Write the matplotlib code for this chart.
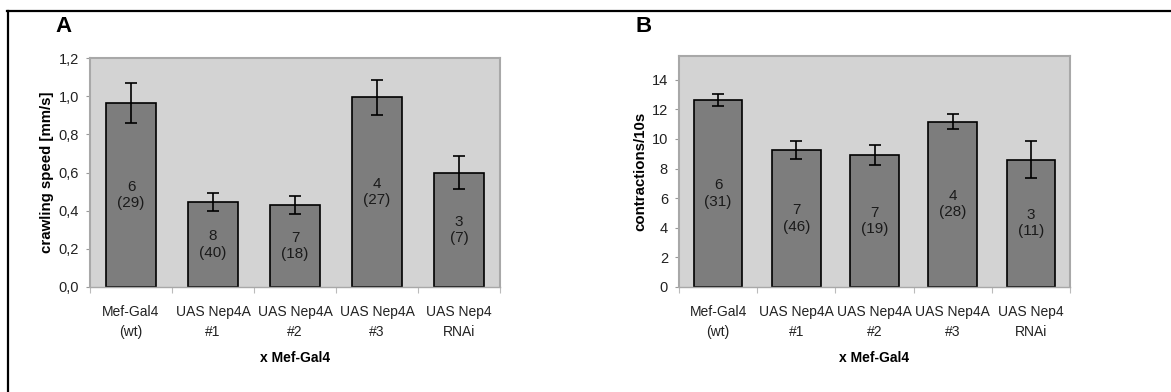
import matplotlib
matplotlib.use("Agg")
import matplotlib.pyplot as plt
from matplotlib.ticker import FuncFormatter
from matplotlib.lines import Line2D

plt.rcParams["font.family"] = ["Liberation Sans", "DejaVu Sans"]

categories = ["Mef-Gal4\n(wt)", "UAS Nep4A\n#1", "UAS Nep4A\n#2",
              "UAS Nep4A\n#3", "UAS Nep4\nRNAi"]

speed = [0.965, 0.445, 0.431, 0.994, 0.599]
speed_err = [0.105, 0.048, 0.048, 0.092, 0.087]
speed_n = ["6\n(29)", "8\n(40)", "7\n(18)", "4\n(27)", "3\n(7)"]

contractions = [12.62, 9.25, 8.91, 11.16, 8.60]
contractions_err = [0.43, 0.58, 0.70, 0.52, 1.25]
contractions_n = ["6\n(31)", "7\n(46)", "7\n(19)", "4\n(28)", "3\n(11)"]

W, H = 1171, 392
fig = plt.figure(figsize=(W / 100, H / 100), dpi=100)

# outer frame (only top and left edges visible in the crop)
fig.add_artist(Line2D([7 / W, 1], [1 - 10.5 / H, 1 - 10.5 / H], color="black", lw=1.6))
fig.add_artist(Line2D([7.5 / W, 7.5 / W], [0, 1 - 10.5 / H], color="black", lw=1.6))


def panel(rect, values, errs, ns, ylim, yticks, fmt, ylabel, letter, letter_x):
    ax = fig.add_axes([rect[0] / W, 1 - rect[3] / H,
                       (rect[2] - rect[0]) / W, (rect[3] - rect[1]) / H])
    ax.set_facecolor("#d3d3d3")
    x = range(len(values))
    ax.bar(x, values, width=0.62, color="#7d7d7d", edgecolor="black",
           linewidth=1.2, zorder=2)
    ax.errorbar(x, values, yerr=errs, fmt="none", ecolor="black",
                elinewidth=1.2, capsize=4, capthick=1.2, zorder=3)
    for xi, v, t in zip(x, values, ns):
        ax.text(xi, v / 2, t, ha="center", va="center", fontsize=11,
                color="#1a1a1a", linespacing=1.2, zorder=4)
    ax.set_xlim(-0.5, len(values) - 0.5)
    ax.set_ylim(*ylim)
    ax.set_yticks(yticks)
    ax.yaxis.set_major_formatter(FuncFormatter(fmt))
    ax.set_xticks([i + 0.5 for i in range(-1, len(values))])
    ax.set_xticklabels([])
    ax.set_xticks(list(x), minor=True)
    ax.set_xticklabels(categories, minor=True, fontsize=10, color="#222222",
                       linespacing=1.5)
    ax.tick_params(axis="x", which="minor", length=0, pad=13)
    ax.tick_params(axis="x", which="major", length=4, color="#bbbbbb")
    ax.tick_params(axis="y", length=3, color="#999999", labelsize=10.5,
                   labelcolor="#222222", pad=5)
    for side in ("top", "right", "left"):
        ax.spines[side].set_color("#a8a8a8")
        ax.spines[side].set_linewidth(1.5)
    ax.spines["bottom"].set_color("#a8a8a8")
    ax.spines["bottom"].set_linewidth(1.0)
    ax.set_ylabel(ylabel, fontsize=10.8, fontweight="bold", labelpad=3)
    ax.set_xlabel("x Mef-Gal4", fontsize=10, fontweight="bold", labelpad=9)
    fig.text(letter_x / W, 1 - 26 / H, letter, fontsize=16, fontweight="bold",
             ha="center", va="center")
    return ax


panel((90, 58, 500, 287), speed, speed_err, speed_n, (0, 1.2),
      [0, 0.2, 0.4, 0.6, 0.8, 1.0, 1.2],
      lambda v, p: f"{v:.1f}".replace(".", ","),
      "crawling speed [mm/s]", "A", 63)

panel((679, 56, 1070, 287), contractions, contractions_err, contractions_n,
      (0, 15.6), [0, 2, 4, 6, 8, 10, 12, 14],
      lambda v, p: f"{v:.0f}",
      "contractions/10s", "B", 644)

fig.savefig("out.png", dpi=100)
